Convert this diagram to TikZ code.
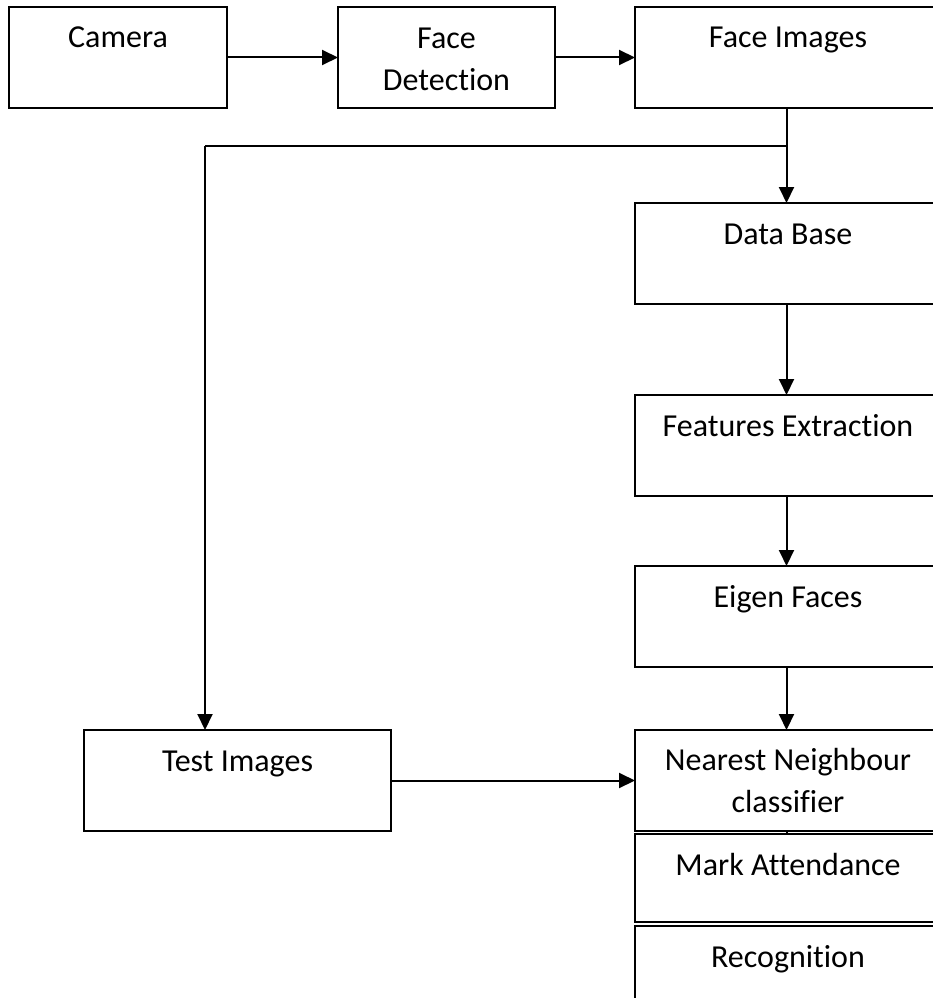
\documentclass[tikz,border=0pt]{standalone}
\usepackage{fontspec}
\setmainfont{Carlito}[Ligatures={NoCommon,NoRare,NoContextual}]
\usetikzlibrary{arrows.meta}

\tikzset{
  box/.style={draw, line width=2pt, rectangle, anchor=north west,
              inner sep=0pt, outer sep=0pt},
  lbl/.style={anchor=base, inner sep=0pt, outer sep=0pt, align=center,
              font=\fontsize{32}{42}\selectfont},
  arr/.style={line width=2pt, -{Triangle[length=16pt,width=15pt]}},
  link/.style={line width=2pt}
}

\begin{document}
\begin{tikzpicture}[x=1pt, y=-1pt]
  \useasboundingbox (0,0) rectangle (933,998);
  \clip (0,0) rectangle (933,998);

  % top row
  \node[box, minimum width=218pt, minimum height=101pt] (camera) at (9,7) {};
  \node[lbl] (camera-t) at (118,48) {Camera};
  \node[box, minimum width=217pt, minimum height=101pt] (fdet) at (338,7) {};
  \node[lbl] (fdet-t) at (446.5,90) {Face\\Detection};
  \node[box, minimum width=303pt, minimum height=101pt] (fimg) at (635,7) {};
  \node[lbl] (fimg-t) at (788,48) {Face Images};

  % right column
  \node[box, minimum width=303pt, minimum height=101pt] (db) at (635,203) {};
  \node[lbl] (db-t) at (788,244) {Data Base};
  \node[box, minimum width=303pt, minimum height=101pt] (fe) at (635,395) {};
  \node[lbl] (fe-t) at (788,436) {Features Extraction};
  \node[box, minimum width=303pt, minimum height=101pt] (ef) at (635,566) {};
  \node[lbl] (ef-t) at (788,607) {Eigen Faces};
  \node[box, minimum width=303pt, minimum height=101pt] (nn) at (635,730) {};
  \node[lbl] (nn-t) at (788,812) {Nearest Neighbour\\classifier};
  \node[box, minimum width=303pt, minimum height=88pt] (ma) at (635,834) {};
  \node[lbl] (ma-t) at (788,875) {Mark Attendance};
  \node[box, minimum width=303pt, minimum height=100pt] (rec) at (635,926) {};
  \node[lbl] (rec-t) at (788,967) {Recognition};

  % test images
  \node[box, minimum width=307pt, minimum height=101pt] (test) at (84,730) {};
  \node[lbl] (test-t) at (237.5,771) {Test Images};

  % connectors
  \draw[arr] (camera) -- (fdet);
  \draw[arr] (fdet) -- (fimg);
  \draw[arr] (fimg.south) -- (db.north);
  \coordinate (turn) at (205,146);
  \coordinate (split) at (fimg.south |- turn);
  \draw[link] (split) -- (turn);
  \draw[arr] (turn) -- (turn |- test.north);
  \draw[arr] (db) -- (fe);
  \draw[arr] (fe) -- (ef);
  \draw[arr] (ef) -- (nn);
  \draw[link] (nn.south) -- (ma.north);
  \draw[arr] (test) -- (nn);
\end{tikzpicture}
\end{document}
